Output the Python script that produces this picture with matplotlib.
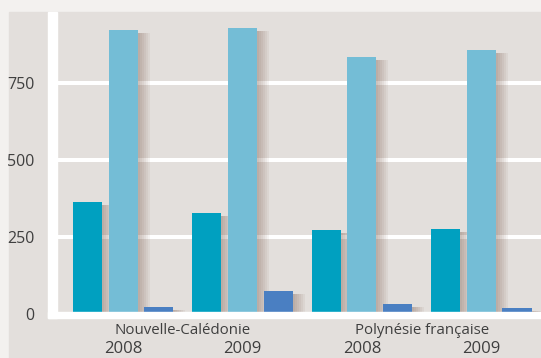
import numpy as np
import matplotlib.pyplot as plt
from matplotlib.patches import Rectangle
from matplotlib.transforms import blended_transform_factory

plt.rcParams['font.family'] = ['Open Sans', 'DejaVu Sans']

territories = ['Nouvelle-Calédonie', 'Polynésie française']
years = ['2008', '2009', '2008', '2009']
series_a = [364, 328, 273, 276]   # dark teal
series_b = [922, 929, 834, 857]   # light blue
series_c = [23, 76, 32, 19]       # blue
yticks = [0, 250, 500, 750]

colors = ['#00a0c0', '#74bdd6', '#4a7fc2']
bg = '#e3dfdc'
text_col = '#3f3f3f'

W, H = 541, 358
fig = plt.figure(figsize=(W / 100, H / 100), dpi=100)
fig.patch.set_facecolor('#f3f1ef')
fig.patches.append(Rectangle((9 / W, 0), 1 - 9 / W, (H - 12) / H,
                             transform=fig.transFigure, color=bg, zorder=-1))

ax = fig.add_axes([57 / W, 44 / H, (W - 57) / W, (H - 12 - 44) / H])
ax.set_facecolor(bg)
for s in ax.spines.values():
    s.set_visible(False)

x = np.arange(len(years))
step, width = 0.299, 0.243
px = 1 / 119.3  # one pixel in x data units
ax.set_xlim(-0.554, 3.5)
ax.set_ylim(0, 980)

for v in yticks[1:]:
    ax.axhline(v, color='white', lw=2.9, zorder=1)

# soft drop shadow to the right of every bar
for k, vals in enumerate([series_a, series_b, series_c]):
    xs = x + (k - 1) * step
    for n in (2, 4, 6, 8, 10, 12):
        ax.bar(xs + n * px, np.array(vals) - 10, width=width,
               color='#7a5a4a', alpha=0.07, lw=0, zorder=2)
    ax.bar(xs, vals, width=width, color=colors[k], lw=0, zorder=3)

ax.set_yticks(yticks)
ax.set_yticklabels([str(t) for t in yticks], fontsize=11.5, color=text_col)
ax.tick_params(axis='y', length=0, pad=16)
ax.set_xticks([])

# white axis bars on the left and bottom
fig.patches.append(Rectangle((48 / W, 40 / H), 9 / W, (H - 12 - 40) / H,
                             transform=fig.transFigure, color='white', zorder=5))
fig.patches.append(Rectangle((48 / W, 40 / H), 1 - 48 / W, 6 / H,
                             transform=fig.transFigure, color='white', zorder=5))

tr = blended_transform_factory(ax.transData, fig.transFigure)
for i, name in enumerate(territories):
    ax.text(2 * i + 0.5, 1 - 330 / H, name, transform=tr, ha='center',
            va='center', fontsize=10.8, color=text_col, clip_on=False)
for i, yr in enumerate(years):
    ax.text(x[i], 1 - 349 / H, yr, transform=tr, ha='center',
            va='center', fontsize=12, color=text_col, clip_on=False)

fig.savefig('out.png', dpi=100)
